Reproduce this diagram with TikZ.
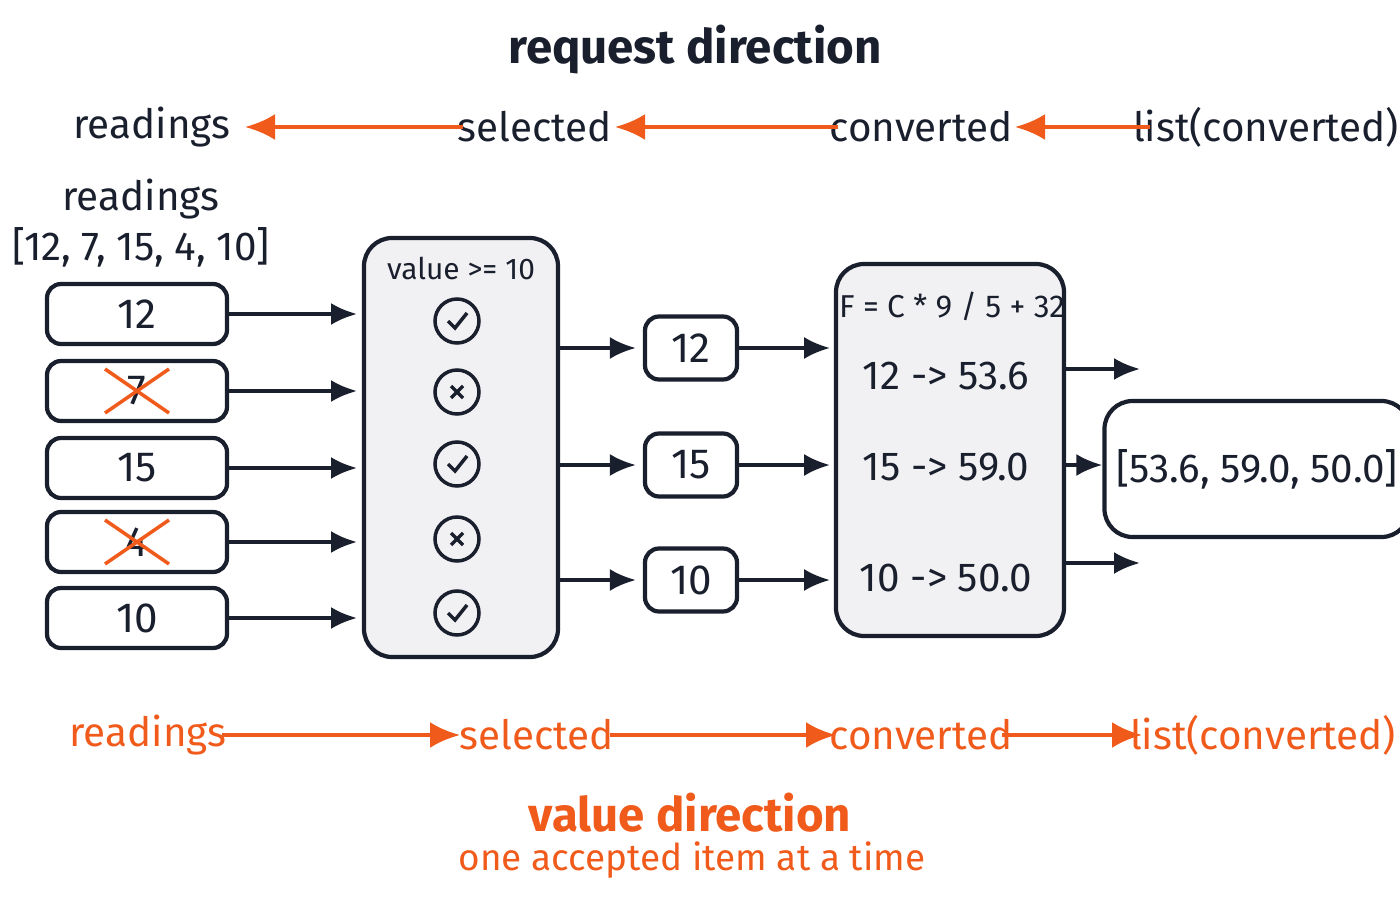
\documentclass[tikz,border=0pt]{standalone}
\usepackage{fontspec}
\setmainfont{Fira Sans}
\usetikzlibrary{positioning,arrows.meta}
\definecolor{navy}{HTML}{1A1F2E}
\definecolor{flow}{HTML}{F05A1A}
\definecolor{panel}{HTML}{F1F1F3}
\tikzset{
  item/.style={draw=navy, line width=1.2pt, rounded corners=4pt, minimum width=1.8cm, minimum height=0.6cm, font=\fontsize{12}{14}\selectfont, text=navy},
  stage/.style={draw=navy, line width=1.2pt, rounded corners=8pt, fill=panel},
  feed/.style={-{Latex[length=2.6mm,width=2.2mm]}, line width=1pt, draw=navy},
  req/.style={{Latex[length=3mm,width=2.6mm]}-, line width=1.2pt, draw=flow},
  val/.style={-{Latex[length=3mm,width=2.6mm]}, line width=1.2pt, draw=flow},
  lbl/.style={font=\fontsize{11.5}{14}\selectfont, text=navy},
  olbl/.style={font=\fontsize{11.5}{14}\selectfont, text=flow},
  checkring/.style={draw=navy, line width=1pt, circle, minimum size=0.44cm, inner sep=0pt}
}
\begin{document}
\begin{tikzpicture}[x=1cm,y=1cm]
    \useasboundingbox (0,0) rectangle (14,9);
    % request direction
    \node[font=\bfseries\fontsize{13.5}{16}\selectfont, text=navy] (reqtitle) at (6.95,8.5) {request direction};
    \node[lbl] (rq1) at (1.52,7.73) {readings};
    \node[lbl] (rq2) at (5.35,7.73) {selected};
    \node[lbl] (rq3) at (9.21,7.73) {converted};
    \node[lbl] (rq4) at (12.66,7.73) {list(converted)};
    \draw[req] (2.45,7.73) -- (4.63,7.73);
    \draw[req] (6.15,7.73) -- (8.38,7.73);
    \draw[req] (10.15,7.73) -- (11.5,7.73);

    % input readings
    \node[lbl, align=center] (inlabel) at (1.41,6.77) {readings\\{[12, 7, 15, 4, 10]}};
    \node[item] (r1) at (1.37,5.86) {12};
    \node[item] (r2) at (1.37,5.09) {7};
    \node[item] (r3) at (1.37,4.32) {15};
    \node[item] (r4) at (1.37,3.58) {4};
    \node[item] (r5) at (1.37,2.82) {10};
    \foreach \r in {r2,r4}
        \draw[flow, line width=1pt] ([xshift=-3.2mm,yshift=2.2mm]\r.center) -- ([xshift=3.2mm,yshift=-2.2mm]\r.center)
              ([xshift=-3.2mm,yshift=-2.2mm]\r.center) -- ([xshift=3.2mm,yshift=2.2mm]\r.center);

    % filter stage
    \draw[stage] (3.64,2.43) rectangle (5.58,6.62);
    \node[font=\fontsize{8.5}{10}\selectfont, text=navy] (cond) at (4.61,6.32) {value >= 10};
    \foreach \n/\y in {1/5.79,2/5.08,3/4.36,4/3.61,5/2.87} {
        \node[checkring] (m\n) at (4.57,\y) {};
        \coordinate (f\n) at (3.57,\y);
    }
    \foreach \n in {1,3,5}
        \draw[navy, line width=1pt] ([shift={(-0.09,0)}]m\n.center) -- ([shift={(-0.02,-0.07)}]m\n.center) -- ([shift={(0.1,0.08)}]m\n.center);
    \foreach \n in {2,4}
        \draw[navy, line width=1pt] ([shift={(-0.06,0.06)}]m\n.center) -- ([shift={(0.06,-0.06)}]m\n.center)
              ([shift={(-0.06,-0.06)}]m\n.center) -- ([shift={(0.06,0.06)}]m\n.center);
    \draw[feed] (r1.east) -- (r1.east -| f1);
    \draw[feed] (r2.east) -- (r2.east -| f1);
    \draw[feed] (r3.east) -- (r3.east -| f1);
    \draw[feed] (r4.east) -- (r4.east -| f1);
    \draw[feed] (r5.east) -- (r5.east -| f1);

    % selected values
    \node[item, minimum width=0.92cm, minimum height=0.63cm] (s1) at (6.91,5.52) {12};
    \node[item, minimum width=0.92cm, minimum height=0.63cm] (s2) at (6.91,4.35) {15};
    \node[item, minimum width=0.92cm, minimum height=0.63cm] (s3) at (6.91,3.2) {10};
    \foreach \s in {s1,s2,s3} {
        \draw[feed] (5.58,0 |- \s.west) -- ([xshift=-0.7mm]\s.west);
        \draw[feed] (\s.east) -- ++(0.91,0);
    }

    % conversion stage
    \draw[stage] (8.36,2.64) rectangle (10.64,6.36);
    \node[font=\fontsize{9}{11}\selectfont, text=navy] (formula) at (9.52,5.94) {F = C * 9 / 5 + 32};
    \node[lbl] (c1) at (9.46,5.24) {12 -> 53.6};
    \node[lbl] (c2) at (9.46,4.33) {15 -> 59.0};
    \node[lbl] (c3) at (9.46,3.22) {10 -> 50.0};

    % result
    \node[draw=navy, line width=1.2pt, rounded corners=8pt, minimum width=2.26cm, minimum height=1.36cm, lbl] (result) at (12.57,4.31) {[53.6, 59.0, 50.0]};
    \coordinate (o1) at (10.64,5.31);
    \coordinate (o2) at (10.64,4.35);
    \coordinate (o3) at (10.64,3.37);
    \draw[feed] (o1) -- ++(0.76,0);
    \draw[feed] (o2) -- (o2 -| result.west);
    \draw[feed] (o3) -- ++(0.76,0);

    % value direction
    \node[olbl] (vl1) at (1.48,1.65) {readings};
    \node[olbl] (vl2) at (5.37,1.65) {selected};
    \node[olbl] (vl3) at (9.21,1.65) {converted};
    \node[olbl] (vl4) at (12.63,1.65) {list(converted)};
    \draw[val] (2.22,1.65) -- (4.6,1.65);
    \draw[val] (6.1,1.65) -- (8.36,1.65);
    \draw[val] (10.02,1.65) -- (11.42,1.65);
    \node[font=\bfseries\fontsize{13.5}{16}\selectfont, text=flow] (valtitle) at (6.9,0.87) {value direction};
    \node[font=\fontsize{10.5}{12}\selectfont, text=flow] (note) at (6.92,0.4) {one accepted item at a time};
\end{tikzpicture}
\end{document}
